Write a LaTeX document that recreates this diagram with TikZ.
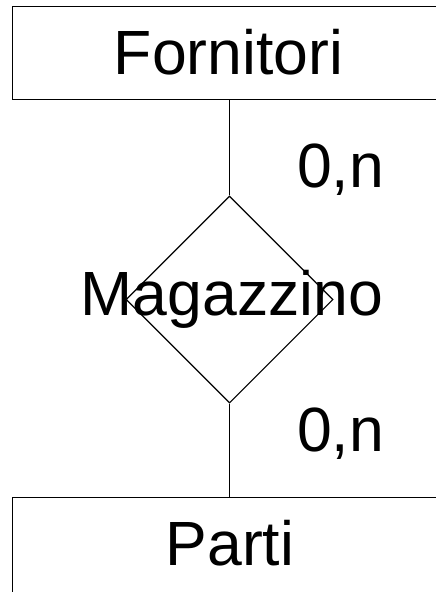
\documentclass[tikz,border=0pt]{standalone}
\usepackage{fontspec}
\setmainfont{Liberation Sans}
\usetikzlibrary{shapes.geometric}
\begin{document}
\begin{tikzpicture}[x=1pt,y=-1pt,
  ln/.style={line width=1.1pt,black},
  entity/.style={draw,ln,rectangle,inner sep=0pt},
  rel/.style={draw,ln,diamond,inner sep=0pt,minimum width=207pt,minimum height=207pt},
  lbl/.style={font=\fontsize{62.5}{70}\selectfont,inner sep=0pt,anchor=base}]
\useasboundingbox (0,0) rectangle (436,592);
\node[entity,anchor=north west,minimum width=440pt,minimum height=93pt] (forn) at (12,6) {};
\node[entity,anchor=north west,minimum width=440pt,minimum height=120pt] (parti) at (12,497) {};
\node[rel] (mag) at (229.5,299.5) {};
\node[lbl] (forntxt) at (228.5,74) {Fornitori};
\node[lbl] (partitxt) at (230,565) {Parti};
\node[lbl] (magtxt) at (232,315) {Magazzino};
\node[lbl,anchor=base west] (c1) at (297,187) {0,n};
\node[lbl,anchor=base west] (c2) at (297,451) {0,n};
\draw[ln] (mag.north) -- (mag.north |- forn.south);
\draw[ln] (mag.south) -- (mag.south |- parti.north);
\end{tikzpicture}
\end{document}
